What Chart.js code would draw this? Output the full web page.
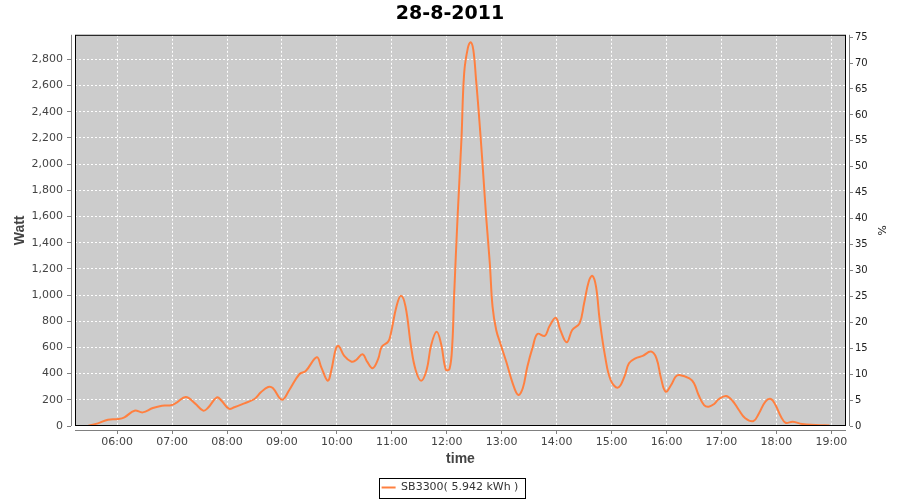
<!DOCTYPE html>
<html>
<head>
<meta charset="utf-8">
<script src="https://cdn.jsdelivr.net/npm/chart.js@4.4.0/dist/chart.umd.min.js"></script>
<style>
  html, body { margin: 0; padding: 0; background: #fff; }
</style>
</head>
<body>
<canvas id="powerChart" width="900" height="500"></canvas>
<script>
// SB3300 output, 28-8-2011
const times = [
  '05:28', '05:39', '05:50', '06:01', '06:08', '06:19', '06:28', '06:39', '06:49', '06:59',
  '07:05', '07:15', '07:25', '07:34', '07:39', '07:49', '07:54', '08:02', '08:08', '08:19',
  '08:30', '08:37', '08:45', '08:50', '09:00', '09:08', '09:19', '09:26', '09:38', '09:43',
  '09:50', '09:54', '09:59', '10:02', '10:08', '10:16', '10:21', '10:28', '10:33', '10:39',
  '10:45', '10:49', '10:56', '10:59', '11:05', '11:10', '11:15', '11:21', '11:26', '11:32',
  '11:38', '11:43', '11:49', '11:54', '11:59', '12:03', '12:06', '12:08', '12:12', '12:16',
  '12:19', '12:23', '12:26', '12:29', '12:32', '12:35', '12:39', '12:43', '12:47', '12:50',
  '12:54', '12:59', '13:05', '13:12', '13:18', '13:23', '13:28', '13:34', '13:39', '13:47',
  '13:52', '13:59', '14:04', '14:11', '14:17', '14:25', '14:30', '14:35', '14:39', '14:43',
  '14:47', '14:53', '14:59', '15:07', '15:14', '15:19', '15:26', '15:34', '15:43', '15:49',
  '15:54', '15:59', '16:05', '16:10', '16:14', '16:25', '16:30', '16:35', '16:41', '16:46',
  '16:52', '16:57', '17:05', '17:12', '17:19', '17:26', '17:35', '17:41', '17:48', '17:54',
  '17:59', '18:05', '18:10', '18:18', '18:28', '18:43', '18:58'
];
const watts = [
  0, 20, 48, 53, 66, 117, 104, 137, 155, 158,
  178, 222, 173, 117, 137, 219, 193, 132, 143, 173,
  206, 257, 298, 290, 200, 275, 395, 420, 525, 448,
  346, 428, 594, 611, 535, 491, 504, 548, 491, 441,
  510, 606, 644, 708, 911, 995, 911, 606, 428, 346,
  428, 619, 720, 620, 430, 435, 620, 990, 1625, 2185,
  2694, 2885, 2930, 2872, 2643, 2389, 2007, 1599, 1243, 911,
  733, 620, 490, 326, 237, 288, 453, 606, 703, 688,
  759, 827, 733, 639, 733, 784, 937, 1102, 1146, 1064,
  810, 529, 351, 293, 377, 479, 517, 535, 568, 517,
  364, 262, 313, 377, 390, 364, 326, 237, 160, 147,
  168, 204, 229, 193, 122, 59, 38, 97, 186, 206,
  160, 71, 25, 33, 15, 8, 4
];
const hourTicks = [6, 7, 8, 9, 10, 11, 12, 13, 14, 15, 16, 17, 18, 19];
const wattTicks = [0, 200, 400, 600, 800, 1000, 1200, 1400, 1600, 1800, 2000, 2200, 2400, 2600, 2800];
const percentTicks = [0, 5, 10, 15, 20, 25, 30, 35, 40, 45, 50, 55, 60, 65, 70, 75];

function toHours(s) {
  const [h, m] = s.split(':').map(Number);
  return h + m / 60;
}

function fmtHour(v) {
  return String(v).padStart(2, '0') + ':00';
}

const points = times.map((t, i) => ({ x: toHours(t), y: watts[i] }));

const tickFont = { family: 'DejaVu Sans', size: 11 };
const axisTitleFont = { family: 'Liberation Sans', size: 14, weight: 'bold' };
const gridStyle = {
  color: '#ffffff',
  lineWidth: 1,
  tickColor: '#808080',
  tickLength: 8,
  tickBorderDash: []
};
// in v4 the grid line dash lives on border.dash
const dashedBorder = { display: false, dash: [2, 2] };

// grey plot background, white gap + grey axis lines, black frame, legend box
const plotFrame = {
  id: 'plotFrame',
  beforeDraw(chart) {
    const { ctx, chartArea: a } = chart;
    ctx.save();
    ctx.fillStyle = '#ffffff';
    ctx.fillRect(0, 0, chart.width, chart.height);
    ctx.fillStyle = '#cccccc';
    ctx.fillRect(a.left, a.top, a.right - a.left, a.bottom - a.top);
    ctx.restore();
  },
  afterDraw(chart) {
    const { ctx, chartArea: a } = chart;
    ctx.save();
    ctx.fillStyle = '#ffffff';
    ctx.fillRect(a.left - 4, a.top, 4, a.bottom - a.top + 4);
    ctx.fillRect(a.left - 4, a.bottom, a.right - a.left + 8, 4);
    ctx.fillRect(a.right, a.top, 3, a.bottom - a.top + 4);

    ctx.strokeStyle = '#808080';
    ctx.lineWidth = 1;
    ctx.beginPath();
    ctx.moveTo(a.left - 3.5, a.top);
    ctx.lineTo(a.left - 3.5, a.bottom);
    ctx.moveTo(a.left, a.bottom + 4.5);
    ctx.lineTo(a.right, a.bottom + 4.5);
    ctx.moveTo(a.right + 3.5, a.top);
    ctx.lineTo(a.right + 3.5, a.bottom);
    ctx.stroke();

    ctx.strokeStyle = '#000000';
    ctx.strokeRect(a.left + 0.5, a.top + 0.5, a.right - a.left - 1, a.bottom - a.top - 1);

    const hb = chart.legend.legendHitBoxes[0];
    if (hb) {
      const cy = hb.top + hb.height / 2;
      ctx.strokeRect(Math.round(hb.left - 3) + 0.5, Math.round(cy - 10) + 0.5, Math.round(hb.width + 9), 20);
    }
    ctx.restore();
  }
};

const ctx = document.getElementById('powerChart').getContext('2d');
new Chart(ctx, {
  type: 'line',
  data: {
    datasets: [{
      label: 'SB3300( 5.942 kWh )',
      data: points,
      borderColor: 'rgb(255, 128, 64)',
      backgroundColor: 'rgb(255, 128, 64)',
      borderWidth: 2,
      pointRadius: 0,
      tension: 0.4,
      fill: false,
      yAxisID: 'y'
    }]
  },
  options: {
    responsive: false,
    animation: false,
    layout: { padding: { top: 0, left: 0, right: 0, bottom: -3 } },
    plugins: {
      title: {
        display: true,
        text: '28-8-2011',
        color: '#000000',
        font: { family: 'DejaVu Sans', size: 19, weight: 'bold' },
        padding: { top: 3, bottom: 9 }
      },
      legend: {
        position: 'bottom',
        labels: {
          usePointStyle: true,
          pointStyle: 'line',
          pointStyleWidth: 14,
          color: '#333333',
          font: tickFont,
          padding: 10
        }
      },
      tooltip: { enabled: false }
    },
    scales: {
      x: {
        type: 'linear',
        min: toHours('05:14'),
        max: toHours('19:16'),
        afterBuildTicks(scale) {
          scale.ticks = hourTicks.map(v => ({ value: v }));
        },
        afterFit(scale) {
          scale.height = 46;
        },
        grid: gridStyle,
        border: dashedBorder,
        ticks: {
          autoSkip: false,
          maxRotation: 0,
          padding: 2,
          color: '#444444',
          font: tickFont,
          callback: v => fmtHour(v)
        },
        title: {
          display: true,
          text: 'time',
          color: '#444444',
          font: axisTitleFont,
          padding: { top: 0, bottom: 4 }
        }
      },
      y: {
        position: 'left',
        min: 0,
        max: 2987,
        afterBuildTicks(scale) {
          scale.ticks = wattTicks.map(v => ({ value: v }));
        },
        afterFit(scale) {
          scale.width = 75;
        },
        grid: gridStyle,
        border: dashedBorder,
        ticks: {
          padding: 4,
          color: '#444444',
          font: tickFont,
          callback: v => v.toLocaleString('en-US')
        },
        title: {
          display: true,
          text: 'Watt',
          color: '#444444',
          font: axisTitleFont,
          padding: { top: 12, bottom: 0 }
        }
      },
      y1: {
        position: 'right',
        min: 0,
        max: 75.45,
        afterBuildTicks(scale) {
          scale.ticks = percentTicks.map(v => ({ value: v }));
        },
        afterFit(scale) {
          scale.width = 54;
        },
        grid: {
          drawOnChartArea: false,
          tickColor: '#808080',
          tickLength: 7
        },
        border: { display: false },
        ticks: {
          padding: 2,
          color: '#222222',
          font: { family: 'DejaVu Sans', size: 10 }
        },
        title: {
          display: true,
          text: '%',
          color: '#222222',
          font: { family: 'DejaVu Sans', size: 11 },
          padding: { top: 13, bottom: 0 }
        }
      }
    }
  },
  plugins: [plotFrame]
});
</script>
</body>
</html>
